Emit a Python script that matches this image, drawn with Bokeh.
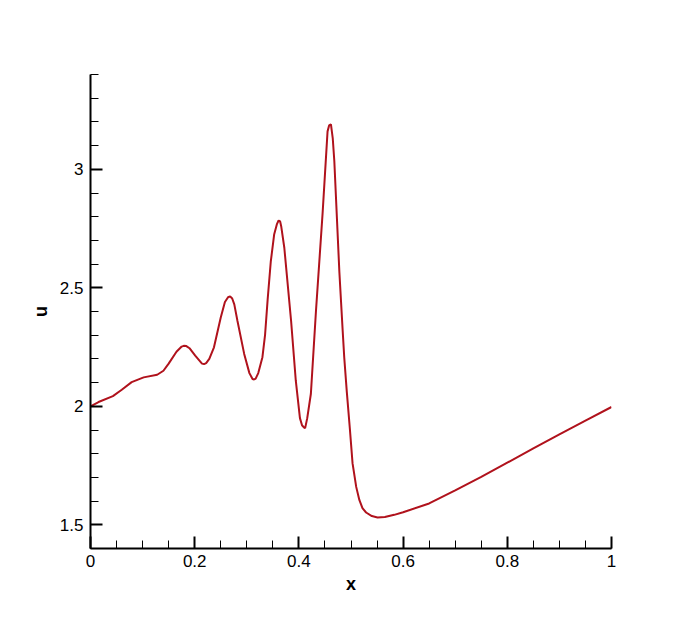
from bokeh.plotting import figure
from bokeh.models import Range1d, FixedTicker
from bokeh.embed import file_html
from bokeh.resources import INLINE

x_vals = [0.0, 0.0154, 0.043, 0.06, 0.079, 0.102, 0.128, 0.14, 0.15, 0.165, 0.175, 0.179,
          0.184, 0.19, 0.201, 0.214, 0.218, 0.222, 0.228, 0.237, 0.25, 0.258, 0.264,
          0.268, 0.272, 0.276, 0.282, 0.295, 0.305, 0.311, 0.314, 0.317, 0.322, 0.330,
          0.335, 0.340, 0.346, 0.3526, 0.358, 0.361, 0.364, 0.366, 0.372, 0.385, 0.394,
          0.402, 0.406, 0.410, 0.412, 0.416, 0.423, 0.4327, 0.4455, 0.455, 0.458, 0.4615,
          0.465, 0.468, 0.4776, 0.484, 0.487, 0.492, 0.498, 0.503, 0.51, 0.516, 0.522,
          0.529, 0.54, 0.551, 0.565, 0.583, 0.60, 0.65, 0.70, 0.75, 0.80, 0.85, 0.90,
          0.95, 1.0]
u_vals = [2.000, 2.018, 2.043, 2.07, 2.102, 2.122, 2.133, 2.15, 2.18, 2.23, 2.252, 2.255,
          2.254, 2.245, 2.214, 2.18, 2.178, 2.182, 2.20, 2.249, 2.375, 2.44, 2.46,
          2.464, 2.455, 2.43, 2.361, 2.221, 2.14, 2.115, 2.113, 2.117, 2.14, 2.207,
          2.30, 2.45, 2.61, 2.726, 2.77, 2.784, 2.78, 2.76, 2.669, 2.361, 2.109,
          1.95, 1.92, 1.91, 1.908, 1.95, 2.053, 2.40, 2.815, 3.16, 3.185, 3.19,
          3.13, 3.034, 2.57, 2.32, 2.207, 2.06, 1.90, 1.759, 1.66, 1.605, 1.57,
          1.552, 1.537, 1.531, 1.533, 1.542, 1.553, 1.59, 1.645, 1.702, 1.762, 1.822, 1.882,
          1.94, 1.997]

x_ticks = [0, 0.2, 0.4, 0.6, 0.8, 1.0]
x_tick_labels = ["0", "0.2", "0.4", "0.6", "0.8", "1"]
y_ticks = [1.5, 2.0, 2.5, 3.0]
y_tick_labels = ["1.5", "2", "2.5", "3"]
x_minor = [i * 0.05 for i in range(21)]
y_minor = [1.4 + i * 0.1 for i in range(21)]

p = figure(width=680, height=600, output_backend="svg", toolbar_location=None,
           x_range=Range1d(0, 1), y_range=Range1d(1.4, 3.4),
           min_border_left=90, min_border_right=69, min_border_top=74, min_border_bottom=52)
p.outline_line_color = None
p.xgrid.visible = False
p.ygrid.visible = False
p.background_fill_color = "white"
p.border_fill_color = "white"

p.line(x_vals, u_vals, line_color="#b0121c", line_width=2)

for ax, ticks, minor, labels in [(p.xaxis[0], x_ticks, x_minor, x_tick_labels),
                                 (p.yaxis[0], y_ticks, y_minor, y_tick_labels)]:
    ax.ticker = FixedTicker(ticks=ticks, minor_ticks=minor)
    ax.major_label_overrides = {t: l for t, l in zip(ticks, labels)}
    ax.axis_line_width = 2
    ax.axis_line_color = "black"
    ax.major_tick_line_width = 2
    ax.major_tick_line_color = "black"
    ax.minor_tick_line_width = 1
    ax.minor_tick_line_color = "black"
    ax.major_tick_in = 12
    ax.major_tick_out = 0
    ax.minor_tick_in = 8
    ax.minor_tick_out = 0
    ax.major_label_text_font = "Liberation Sans"
    ax.major_label_text_font_size = "17px"
    ax.major_label_text_color = "black"
    ax.axis_label_text_font = "Liberation Sans"
    ax.axis_label_text_font_size = "18px"
    ax.axis_label_text_font_style = "bold"
    ax.axis_label_text_color = "black"

p.xaxis.axis_label = "x"
p.yaxis.axis_label = "u"
p.xaxis.major_label_standoff = 6
p.yaxis.major_label_standoff = 7
p.xaxis.axis_label_standoff = 4
p.yaxis.axis_label_standoff = 6

open("out.html", "w").write(file_html(p, INLINE))
